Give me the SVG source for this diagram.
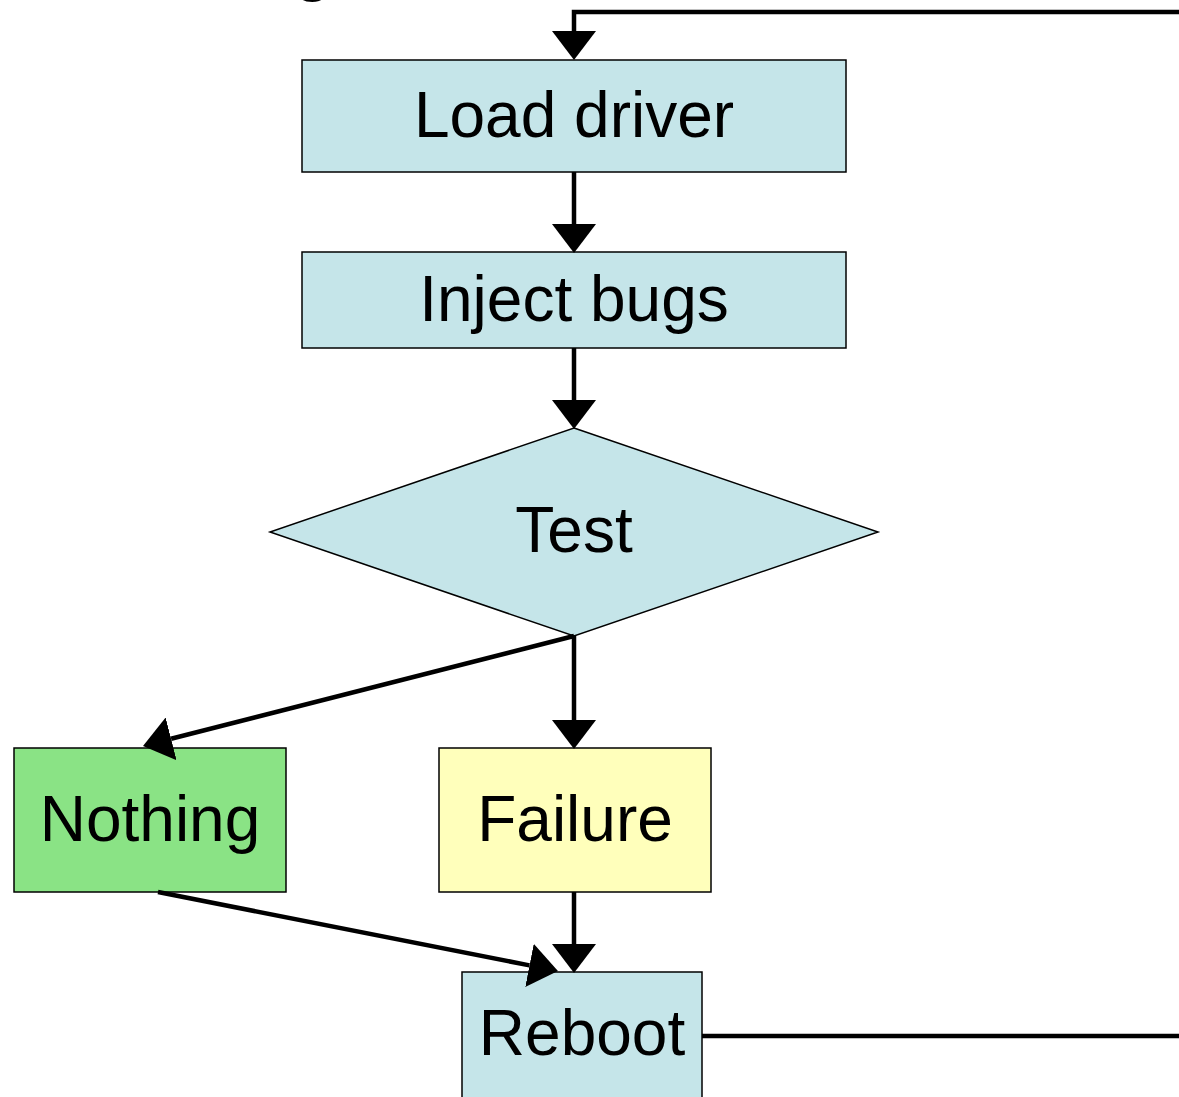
<svg xmlns="http://www.w3.org/2000/svg" width="1179" height="1097" viewBox="0 0 1179 1097">
  <style>
    .box { stroke: #000; stroke-width: 1.5; }
    .blue { fill: #c5e5e9; }
    .green { fill: #8ae385; }
    .yellow { fill: #ffffbb; }
    .label { font-family: "Liberation Sans", Arial, sans-serif; font-size: 64px; fill: #000; text-anchor: middle; }
    .edge { fill: none; stroke: #000; stroke-width: 4.5; marker-end: url(#arrow); }
  </style>
  <defs>
    <marker id="arrow" viewBox="0 0 29 44" refX="0" refY="22" markerWidth="29" markerHeight="44" markerUnits="userSpaceOnUse" orient="auto">
      <path d="M0,0 L29,22 L0,44 Z" fill="#000"/>
    </marker>
  </defs>
  <rect width="1179" height="1097" fill="#fff"/>

  <!-- heading text running off the top edge -->
  <text class="label" x="313" y="-11" font-weight="bold">g</text>

  <g id="load-driver">
    <rect class="box blue" x="302" y="60" width="544" height="112"/>
    <text class="label" x="574" y="137">Load driver</text>
  </g>
  <g id="inject-bugs">
    <rect class="box blue" x="302" y="252" width="544" height="96"/>
    <text class="label" x="574" y="321">Inject bugs</text>
  </g>
  <g id="test">
    <polygon class="box blue" points="574,428 878,532 574,636 270,532"/>
    <text class="label" x="574" y="552">Test</text>
  </g>
  <g id="nothing">
    <rect class="box green" x="14" y="748" width="272" height="144"/>
    <text class="label" x="150" y="841">Nothing</text>
  </g>
  <g id="failure">
    <rect class="box yellow" x="439" y="748" width="272" height="144"/>
    <text class="label" x="575" y="841">Failure</text>
  </g>
  <g id="reboot">
    <rect class="box blue" x="462" y="972" width="240" height="140"/>
    <text class="label" x="582" y="1055">Reboot</text>
  </g>

  <g id="connectors">
    <path class="edge" d="M1179,12 H574 V31"/>
    <path class="edge" d="M574,172 V224"/>
    <path class="edge" d="M574,348 V400"/>
    <path class="edge" d="M574,636 V720"/>
    <path class="edge" d="M574,636 L171.1,738.8"/>
    <path class="edge" d="M574,892 V944"/>
    <path class="edge" d="M158,892 L529.5,965.4"/>
    <path fill="none" stroke="#000" stroke-width="4.5" d="M702,1036 H1179"/>
  </g>
</svg>
